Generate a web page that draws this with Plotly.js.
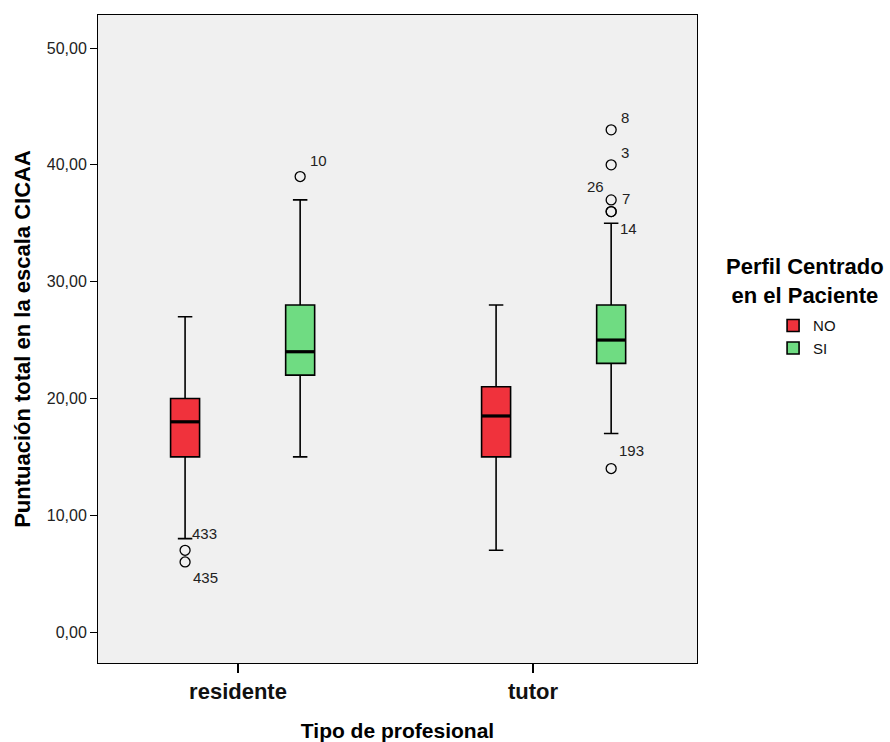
<!DOCTYPE html>
<html><head><meta charset="utf-8">
<script src="https://cdn.plot.ly/plotly-3.0.1.min.js"></script>
<style>body{margin:0;background:#fff;}#chart{width:890px;height:742px;}</style>
</head><body><div id="chart"></div>
<script>
// ---- data ----
const categories = ['residente', 'tutor'];
const groupNames = ['NO', 'SI'];
const noQ1 = [15, 15];
const noMedian = [18, 18.5];
const noQ3 = [20, 21];
const noLower = [8, 7];
const noUpper = [27, 28];
const noOutliers = [[7, 6], []];
const noOutlierLabels = [['433', '435'], []];
const siQ1 = [22, 23];
const siMedian = [24, 25];
const siQ3 = [28, 28];
const siLower = [15, 17];
const siUpper = [37, 35];
const siOutliers = [[39], [43, 40, 37, 36, 36, 14]];
const siOutlierLabels = [['10'], ['8', '3', '7', '26', '14', '193']];
const yTicks = [0, 10, 20, 30, 40, 50];

// ---- styles ----
const boxGap = 0.26, boxGroupGap = 0.748;
const colors = {NO: '#f0323c', SI: '#6fdc82'};
const labelOffsets = { // [xshift px, yshift px (up positive), anchor]
  '433': [5, 17, 'left'], '435': [6, -16, 'left'], '10': [8, 16, 'left'],
  '8': [8, 12, 'left'], '3': [8, 12, 'left'], '7': [9, 1, 'left'],
  '26': [-5, 25, 'right'], '14': [7, -17, 'left'], '193': [6, 18, 'left']
};
const FONT = 'Liberation Sans, Arial, Helvetica, sans-serif';

function boxTrace(name, q1, med, q3, lo, hi, outl) {
  return {
    type: 'box', name: name, orientation: 'v', x: categories,
    q1: q1, median: med, q3: q3, lowerfence: lo, upperfence: hi,
    y: outl, boxpoints: 'outliers', pointpos: 0, jitter: 0,
    fillcolor: colors[name], line: {color: '#000', width: 1.6}, whiskerwidth: 0.5,
    marker: {symbol: 'circle-open', size: 10, color: '#000', line: {width: 1.3}},
    hoverinfo: 'skip'
  };
}
const traces = [
  boxTrace('NO', noQ1, noMedian, noQ3, noLower, noUpper, noOutliers),
  boxTrace('SI', siQ1, siMedian, siQ3, siLower, siUpper, siOutliers),
  // invisible helper so the category tick axis (x2) is drawn
  {type: 'scatter', mode: 'markers', x: categories, y: [null, null], xaxis: 'x2', yaxis: 'y',
   showlegend: false, hoverinfo: 'skip', marker: {opacity: 0}}
];

const off = (1 - boxGap) / 4;
const hw = (1 - boxGap) * (1 - boxGroupGap) / 4;
const shapes = [];
const annotations = [];
[[noMedian, -1, noOutliers, noOutlierLabels], [siMedian, 1, siOutliers, siOutlierLabels]].forEach(([med, s, outl, labs]) => {
  med.forEach((m, i) => {
    const c = i + s * off;
    shapes.push({type: 'line', xref: 'x', yref: 'y', x0: c - hw, x1: c + hw, y0: m, y1: m, line: {color: '#000', width: 3.2}});
  });
  outl.forEach((vals, i) => {
    vals.forEach((v, j) => {
      const lab = labs[i][j];
      const o = labelOffsets[lab] || [6, 0, 'left'];
      annotations.push({xref: 'x', yref: 'y', x: i + s * off, y: v, text: lab, showarrow: false,
        xanchor: o[2], yanchor: 'middle', xshift: o[0], yshift: o[1],
        font: {family: FONT, size: 15, color: '#222'}});
    });
  });
});
annotations.push({xref: 'paper', yref: 'paper', x: 1.18, y: 0.5895, xanchor: 'center', yanchor: 'middle',
  showarrow: false, text: 'Perfil Centrado<br>en el Paciente',
  font: {family: FONT, size: 22, weight: 'bold', color: '#000'}});

const layout = {
  width: 890, height: 742,
  margin: {l: 98, r: 193, t: 15, b: 79},
  paper_bgcolor: '#ffffff', plot_bgcolor: '#f0f0f0',
  boxmode: 'group', boxgap: boxGap, boxgroupgap: boxGroupGap,
  separators: ',.',
  font: {family: FONT, color: '#000'},
  showlegend: true,
  xaxis: {type: 'category', range: [-0.465, 1.461], showline: true, mirror: true, linecolor: '#000', linewidth: 1,
    ticks: '', showticklabels: false, showgrid: false, zeroline: false,
    title: {text: 'Tipo de profesional', font: {family: FONT, size: 21, weight: 'bold', color: '#000'}, standoff: 62}},
  xaxis2: {overlaying: 'x', anchor: 'y', side: 'bottom', type: 'category', range: [-0.4746, 1.5559],
    showline: false, showgrid: false, zeroline: false,
    ticks: 'outside', ticklen: 9, tickcolor: '#000', tickwidth: 1.2,
    tickfont: {family: FONT, size: 22, weight: 'bold', color: '#111'}},
  yaxis: {range: [-2.65, 52.83], tickvals: yTicks, tickformat: '.2f', showline: true, mirror: true, linecolor: '#000', linewidth: 1,
    ticks: 'outside', ticklen: 7, tickcolor: '#000', showgrid: false, zeroline: false,
    tickfont: {family: FONT, size: 16, color: '#222'},
    title: {text: 'Puntuación total en la escala CICAA', font: {family: FONT, size: 22, weight: 'bold', color: '#000'}, standoff: 10}},
  legend: {x: 1.127, y: 0.546, xanchor: 'left', yanchor: 'top', font: {family: FONT, size: 15, color: '#111'},
    bgcolor: 'rgba(0,0,0,0)', traceorder: 'normal', itemclick: false},
  shapes: shapes,
  annotations: annotations
};
Plotly.newPlot('chart', traces, layout, {displayModeBar: false, staticPlot: true});
</script>
</body></html>
